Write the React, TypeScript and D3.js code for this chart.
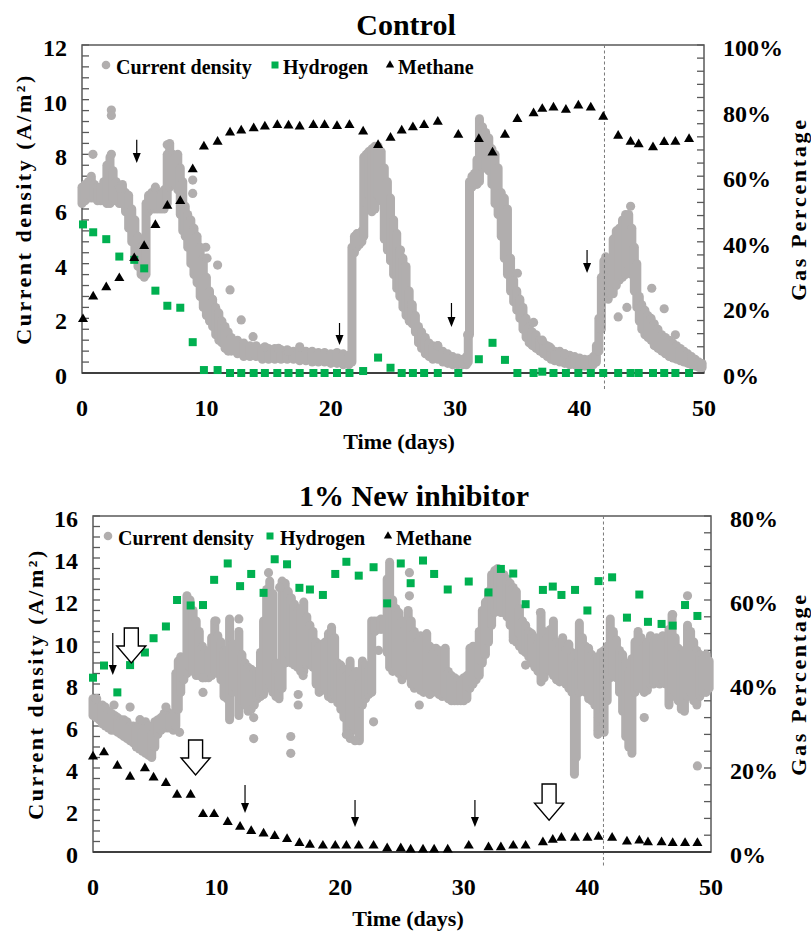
import React from "react";
import * as d3 from "d3";

const FONT = "'Liberation Serif', 'Times New Roman', serif";
const GRAY = "#b1aeae";
const GREEN = "#00b050";

// ---------- Control ----------
const ctrlGasDays = [0.08, 0.9, 1.95, 3.0, 4.2, 5.0, 5.9, 6.86, 7.9, 8.9, 9.8, 10.9, 11.9, 12.8, 13.8, 14.7, 15.7, 16.6, 17.5, 18.6, 19.5, 20.5, 21.5, 22.6, 23.8, 24.8, 25.7, 26.6, 27.5, 28.6, 30.25, 31.9, 33.0, 34.0, 35.0, 36.3, 37.0, 37.9, 38.9, 39.9, 40.9, 41.9, 43.1, 44.1, 44.75, 45.9, 46.8, 47.7, 48.8];
const ctrlHydrogen = [45.3, 42.9, 40.8, 35.5, 34.5, 31.9, 25.1, 20.5, 19.9, 9.4, 0.9, 0.9, 0, 0, 0, 0, 0, 0, 0, 0, 0, 0, 0, 0.6, 4.7, 1.6, 0, 0, 0, 0, 0, 4.2, 9.2, 4.0, 0, 0, 0.4, 0, 0, 0, 0, 0, 0, 0, 0, 0, 0, 0, 0];
const ctrlMethane = [16.4, 23.3, 26.1, 28.9, 35.0, 38.7, 45.1, 51.0, 52.4, 62.1, 69.0, 70.5, 73.3, 73.9, 74.6, 75.1, 75.6, 75.4, 75.1, 75.6, 75.6, 75.3, 75.6, 73.6, 69.5, 71.7, 73.9, 74.9, 75.6, 76.6, 72.6, 71.3, 67.2, 72.6, 77.4, 79.2, 80.5, 80.9, 80.2, 81.5, 80.9, 78.1, 72.3, 70.5, 69.7, 68.8, 70.4, 70.5, 71.3];

// current density: [day, low, high] spread of the dense dot cloud
const ctrlCurrent: [number, number, number][] = [
  [0.0, 6.2, 6.8], [0.25, 6.3, 6.9], [0.5, 6.4, 7.0], [0.75, 6.4, 7.2], [1.0, 6.4, 6.9], [1.25, 6.3, 6.8],
  [1.5, 6.3, 6.8], [1.75, 6.3, 7.0], [2.0, 6.2, 7.6], [2.25, 6.2, 7.9], [2.5, 6.3, 7.4], [2.75, 6.3, 7.0],
  [3.0, 6.2, 6.8], [3.25, 6.2, 6.9], [3.5, 5.9, 6.6], [3.75, 5.3, 6.5], [4.0, 4.8, 6.0], [4.25, 4.3, 5.6],
  [4.5, 3.9, 5.0], [4.75, 3.6, 4.6], [5.0, 3.5, 4.5], [5.15, 3.6, 6.2], [5.35, 5.9, 6.5], [5.6, 6.0, 6.6],
  [5.85, 6.0, 6.5], [6.1, 6.0, 6.6], [6.35, 6.0, 6.5], [6.6, 6.0, 6.7], [6.85, 6.2, 8.0], [7.05, 6.8, 8.4],
  [7.3, 6.9, 8.0], [7.5, 6.9, 7.9], [7.7, 6.7, 8.0], [7.9, 5.8, 7.5], [8.1, 5.2, 7.0], [8.3, 5.0, 6.1],
  [8.5, 4.6, 5.8], [8.75, 4.0, 5.6], [9.0, 3.6, 5.3], [9.25, 3.3, 5.0], [9.5, 2.8, 4.6], [9.75, 2.4, 4.2],
  [10.0, 2.1, 3.5], [10.25, 1.9, 3.0], [10.5, 1.7, 2.7], [10.75, 1.4, 2.4], [11.0, 1.2, 2.2], [11.25, 1.1, 1.9],
  [11.5, 0.9, 1.7], [11.75, 0.8, 1.5], [12.0, 0.8, 1.3], [12.5, 0.7, 1.2], [13.0, 0.6, 1.1], [13.5, 0.6, 1.0],
  [14.0, 0.6, 1.0], [14.5, 0.5, 0.9], [15.0, 0.5, 0.9], [15.5, 0.5, 0.9], [16.0, 0.5, 0.85], [16.5, 0.5, 0.85],
  [17.0, 0.5, 0.8], [17.5, 0.45, 0.85], [18.0, 0.45, 0.8], [18.5, 0.4, 0.8], [19.0, 0.4, 0.75], [19.5, 0.4, 0.75],
  [20.0, 0.35, 0.7], [20.5, 0.35, 0.75], [21.0, 0.3, 0.7], [21.45, 0.3, 0.65], [21.7, 0.4, 4.6], [21.9, 4.4, 5.0],
  [22.1, 4.6, 5.1], [22.3, 4.7, 5.1], [22.5, 4.8, 5.2], [22.65, 5.0, 7.9], [22.85, 6.2, 8.0], [23.05, 6.5, 8.1],
  [23.3, 5.9, 8.2], [23.55, 6.0, 8.3], [23.8, 6.5, 8.3], [24.05, 6.3, 8.1], [24.3, 4.9, 7.5], [24.55, 4.5, 7.0],
  [24.8, 4.1, 6.4], [25.05, 3.6, 5.6], [25.3, 3.1, 5.1], [25.55, 2.8, 4.5], [25.8, 2.4, 4.2], [26.05, 2.1, 3.9],
  [26.3, 1.9, 3.0], [26.55, 1.8, 2.5], [26.8, 1.5, 2.1], [27.05, 1.1, 1.7], [27.3, 0.9, 1.5], [27.6, 0.7, 1.3],
  [27.9, 0.6, 1.1], [28.2, 0.5, 1.0], [28.6, 0.5, 1.0], [29.0, 0.4, 0.8], [29.4, 0.35, 0.7], [29.8, 0.3, 0.6],
  [30.2, 0.3, 0.55], [30.6, 0.3, 0.5], [30.9, 0.3, 0.6], [31.05, 0.4, 1.4], [31.15, 1.4, 7.0], [31.35, 6.8, 7.2],
  [31.55, 6.9, 7.3], [31.75, 6.9, 7.8], [31.95, 7.0, 9.3], [32.2, 7.5, 9.0], [32.45, 7.5, 8.8], [32.7, 7.4, 8.6],
  [32.95, 6.9, 8.2], [33.2, 6.2, 8.0], [33.45, 5.8, 7.5], [33.7, 5.0, 6.6], [33.95, 4.2, 6.4], [34.2, 3.6, 6.0],
  [34.45, 3.0, 4.2], [34.7, 2.6, 3.4], [34.95, 2.3, 3.0], [35.2, 2.0, 2.7], [35.45, 1.6, 2.4], [35.7, 1.3, 2.0],
  [35.95, 1.1, 1.7], [36.2, 1.0, 1.5], [36.5, 0.9, 1.4], [36.8, 0.8, 1.2], [37.1, 0.7, 1.1], [37.4, 0.6, 1.0],
  [37.7, 0.5, 0.9], [38.0, 0.45, 0.8], [38.4, 0.4, 0.8], [38.8, 0.35, 0.7], [39.2, 0.3, 0.65], [39.6, 0.3, 0.6],
  [40.0, 0.25, 0.55], [40.4, 0.25, 0.5], [40.8, 0.25, 0.5], [41.1, 0.3, 0.6], [41.35, 0.4, 1.0], [41.55, 0.8, 2.0],
  [41.75, 1.6, 3.5], [41.95, 2.8, 4.1], [42.1, 3.2, 4.25], [42.3, 2.7, 3.9], [42.5, 2.9, 3.5], [42.7, 2.9, 4.9],
  [42.95, 3.2, 5.2], [43.2, 3.4, 5.3], [43.45, 3.5, 5.6], [43.7, 3.6, 5.8], [43.95, 3.9, 5.8], [44.2, 3.6, 5.3],
  [44.4, 3.0, 4.6], [44.6, 2.4, 4.0], [44.8, 1.9, 2.8], [45.0, 1.6, 2.5], [45.25, 1.4, 2.3], [45.5, 1.3, 2.1],
  [45.75, 1.2, 2.0], [46.0, 1.0, 1.8], [46.3, 0.9, 1.6], [46.6, 0.8, 1.4], [46.9, 0.7, 1.3], [47.2, 0.6, 1.2],
  [47.5, 0.55, 1.1], [47.8, 0.5, 1.0], [48.1, 0.45, 0.9], [48.4, 0.4, 0.8], [48.7, 0.35, 0.7], [49.0, 0.3, 0.6],
  [49.3, 0.25, 0.5], [49.6, 0.2, 0.4], [49.85, 0.2, 0.35],
];
// stray current density points
const ctrlCurrentDots: [number, number][] = [
  [0.88, 8.0], [2.36, 9.62], [2.36, 9.42], [2.36, 8.0], [3.1, 6.75], [5.9, 6.8], [6.85, 8.35], [8.9, 7.06],
  [8.9, 6.57], [9.95, 4.6], [10.05, 4.2], [10.9, 3.95], [11.9, 3.04], [12.8, 1.94], [13.75, 1.33], [14.7, 0.96],
  [15.8, 0.9], [16.6, 0.8], [17.5, 0.96], [25.6, 4.5], [26.5, 2.5], [28.6, 1.0], [31.0, 1.4], [35.0, 3.65],
  [36.3, 1.85], [37.0, 1.2], [37.6, 0.95], [38.8, 0.7], [43.1, 2.05], [43.8, 2.4], [44.1, 6.1], [45.8, 3.1],
  [46.8, 2.35], [47.7, 1.4],
];
// feeding arrows: [day, top value, tip value]
const ctrlArrows: [number, number, number][] = [[4.4, 8.53, 7.68], [20.7, 1.83, 1.02], [29.7, 2.56, 1.68], [40.6, 4.5, 3.66]];
const ctrlDashDay = 42.0;

// ---------- 1% New inhibitor ----------
const inhGasDays = [0, 0.89, 1.97, 3.0, 4.2, 4.9, 5.9, 6.8, 7.9, 8.9, 9.8, 10.9, 11.9, 12.8, 13.8, 14.7, 15.7, 16.7, 17.55, 18.6, 19.6, 20.5, 21.5, 22.7, 23.8, 24.9, 25.7, 26.7, 27.6, 28.7, 30.4, 32.0, 33.0, 34.0, 35.0, 36.4, 37.2, 37.9, 39.0, 40.0, 40.9, 42.0, 43.2, 44.2, 44.9, 46.0, 46.9, 47.9, 48.9];
const inhHydrogen = [41.5, 44.4, 38.0, 44.5, 47.5, 50.9, 53.7, 60.0, 58.7, 58.8, 64.8, 68.7, 63.3, 66.2, 61.7, 69.7, 68.5, 62.9, 62.5, 61.2, 66.2, 69.1, 65.8, 67.8, 59.2, 68.7, 64.0, 69.4, 66.2, 62.5, 64.4, 61.8, 67.4, 66.3, 59.0, 62.4, 63.2, 61.2, 62.4, 57.5, 64.5, 65.4, 55.8, 61.3, 54.8, 54.3, 53.9, 58.8, 56.2];
const inhMethane = [22.7, 23.7, 20.5, 17.9, 19.9, 17.7, 16.4, 13.6, 13.6, 9.0, 9.0, 7.1, 6.0, 5.0, 4.4, 3.8, 3.1, 2.1, 1.7, 1.5, 1.5, 1.5, 1.5, 1.5, 0.9, 0.9, 0.6, 0.6, 0.6, 0.6, 1.5, 1.1, 1.1, 1.5, 1.5, 2.3, 2.9, 3.4, 3.4, 3.4, 3.6, 3.4, 2.5, 2.7, 2.3, 2.3, 2.1, 2.1, 2.1];

const inhCurrent: [number, number, number][] = [
  [0.0, 6.5, 7.3], [0.25, 6.4, 7.2], [0.5, 6.3, 7.0], [0.75, 6.1, 7.0], [1.0, 6.0, 6.9], [1.25, 5.9, 6.7],
  [1.5, 5.8, 6.6], [1.75, 5.8, 6.5], [2.0, 5.7, 6.4], [2.25, 5.6, 6.3], [2.5, 5.5, 6.3], [2.75, 5.4, 6.2],
  [3.0, 5.3, 6.0], [3.25, 5.2, 6.0], [3.5, 5.0, 5.9], [3.75, 4.9, 6.1], [4.0, 4.8, 5.7], [4.25, 4.7, 6.2],
  [4.5, 4.6, 6.0], [4.75, 4.5, 5.6], [5.0, 5.0, 6.2], [5.25, 5.6, 6.3], [5.5, 5.8, 6.4], [5.75, 5.9, 6.6],
  [6.0, 5.9, 6.7], [6.25, 5.9, 6.5], [6.5, 5.8, 6.6], [6.7, 6.0, 8.5], [6.9, 6.8, 9.1], [7.1, 7.6, 9.3],
  [7.35, 8.2, 9.2], [7.6, 8.5, 12.2], [7.85, 8.8, 12.0], [8.1, 8.6, 11.5], [8.35, 8.4, 11.0], [8.6, 8.4, 10.5],
  [8.85, 8.3, 9.8], [9.1, 8.3, 9.6], [9.35, 8.3, 9.5], [9.6, 8.4, 10.2], [9.85, 8.6, 11.0], [10.1, 8.5, 10.3],
  [10.35, 8.2, 10.0], [10.6, 7.4, 9.6], [10.85, 7.3, 9.6], [11.05, 6.3, 11.1], [11.3, 7.6, 9.9], [11.55, 7.8, 9.6],
  [11.8, 6.5, 10.5], [12.05, 7.2, 9.4], [12.3, 7.0, 9.0], [12.55, 6.7, 8.8], [12.8, 6.8, 8.7], [13.05, 7.0, 8.6],
  [13.3, 7.3, 8.6], [13.55, 7.4, 9.5], [13.8, 7.5, 11.0], [14.05, 7.8, 12.5], [14.3, 8.0, 12.9], [14.55, 7.6, 12.3],
  [14.8, 7.4, 9.0], [15.05, 7.3, 8.4], [15.3, 7.8, 12.9], [15.55, 9.0, 12.8], [15.8, 9.4, 12.4], [16.05, 9.0, 12.1],
  [16.3, 8.9, 11.8], [16.55, 8.8, 11.5], [16.8, 8.6, 11.6], [17.05, 8.6, 11.9], [17.3, 8.9, 11.2], [17.55, 9.0, 10.8],
  [17.8, 8.8, 10.5], [18.05, 8.0, 10.0], [18.3, 7.6, 9.8], [18.55, 7.7, 9.9], [18.8, 7.8, 10.0], [19.05, 7.4, 10.4],
  [19.3, 7.3, 10.7], [19.55, 7.5, 10.2], [19.8, 7.1, 9.0], [20.05, 6.8, 8.9], [20.3, 6.4, 8.7], [20.55, 5.8, 8.4],
  [20.8, 5.4, 9.1], [21.05, 6.0, 8.3], [21.3, 5.8, 8.6], [21.55, 5.3, 8.0], [21.8, 7.0, 9.1], [22.05, 7.3, 8.9],
  [22.3, 7.5, 8.7], [22.55, 7.6, 11.0], [22.8, 10.5, 11.0], [23.05, 10.6, 11.0], [23.3, 10.6, 11.1], [23.55, 10.6, 11.0],
  [23.8, 9.5, 13.0], [24.0, 8.8, 13.8], [24.25, 8.6, 12.0], [24.5, 8.8, 11.6], [24.75, 8.5, 11.4], [25.0, 8.2, 11.0],
  [25.25, 8.5, 10.6], [25.5, 8.4, 11.5], [25.75, 8.0, 11.0], [26.0, 7.8, 10.5], [26.25, 7.9, 10.0], [26.5, 7.7, 10.3],
  [26.75, 7.6, 10.2], [27.0, 7.8, 10.4], [27.25, 7.5, 9.8], [27.5, 7.6, 9.5], [27.75, 7.8, 9.7], [28.0, 7.5, 9.6],
  [28.25, 7.4, 9.3], [28.5, 7.5, 9.7], [28.75, 7.3, 8.6], [29.0, 7.2, 8.4], [29.25, 7.2, 8.3], [29.5, 7.2, 8.2],
  [29.75, 7.2, 8.1], [30.0, 7.2, 8.3], [30.25, 7.3, 8.4], [30.5, 7.8, 9.7], [30.75, 8.0, 9.8], [31.0, 8.2, 9.6],
  [31.25, 8.4, 10.5], [31.5, 9.0, 11.5], [31.75, 9.4, 11.9], [32.0, 10.0, 12.4], [32.25, 10.8, 13.2], [32.5, 11.4, 13.4],
  [32.75, 11.6, 13.5], [33.0, 11.4, 13.3], [33.25, 11.4, 13.2], [33.5, 11.2, 13.0], [33.75, 10.8, 12.8], [34.0, 10.2, 12.6],
  [34.25, 10.0, 12.4], [34.5, 9.8, 11.6], [34.75, 9.6, 11.0], [35.0, 9.5, 10.8], [35.25, 9.3, 10.5], [35.5, 9.0, 10.4],
  [35.75, 8.8, 10.2], [36.0, 8.6, 9.9], [36.25, 8.1, 11.4], [36.5, 8.3, 10.5], [36.75, 8.7, 10.2], [37.0, 8.6, 10.6],
  [37.25, 8.4, 11.0], [37.5, 8.2, 10.0], [37.75, 8.1, 9.8], [38.0, 8.3, 10.2], [38.25, 8.0, 9.6], [38.5, 7.8, 9.9],
  [38.75, 7.6, 9.5], [38.95, 3.7, 9.4], [39.1, 4.5, 9.0], [39.35, 7.6, 10.9], [39.6, 7.8, 10.2], [39.85, 7.6, 9.8],
  [40.1, 7.3, 9.7], [40.35, 7.2, 9.4], [40.6, 7.0, 9.2], [40.85, 5.6, 9.3], [41.1, 6.5, 9.5], [41.35, 5.7, 9.6],
  [41.6, 7.2, 9.8], [41.85, 8.3, 11.1], [42.1, 8.4, 10.5], [42.35, 8.3, 10.1], [42.6, 7.6, 9.6], [42.85, 6.7, 9.4],
  [43.1, 5.5, 9.0], [43.35, 5.0, 8.6], [43.6, 4.7, 9.2], [43.85, 7.6, 10.0], [44.1, 7.8, 10.5], [44.35, 7.8, 10.2],
  [44.6, 7.6, 9.8], [44.85, 7.7, 10.0], [45.1, 8.0, 10.3], [45.35, 8.0, 10.0], [45.6, 8.1, 10.2], [45.85, 8.0, 9.9],
  [46.1, 8.2, 10.3], [46.35, 8.0, 10.0], [46.6, 7.0, 10.6], [46.85, 7.4, 11.3], [47.1, 7.6, 10.2], [47.35, 7.2, 9.7],
  [47.6, 6.8, 9.4], [47.85, 6.7, 9.6], [48.1, 7.4, 10.8], [48.35, 7.6, 10.5], [48.6, 7.2, 10.0], [48.85, 7.0, 9.6],
  [49.1, 7.4, 9.4], [49.35, 7.6, 9.2], [49.6, 7.6, 9.4], [49.85, 7.8, 9.1],
];
const inhCurrentDots: [number, number][] = [
  [0.3, 7.3], [1.7, 7.0], [3.0, 6.9], [3.8, 6.3], [5.9, 6.9], [7.0, 5.7], [8.9, 8.3], [8.9, 7.6], [9.95, 11.0],
  [11.8, 11.1], [13.0, 6.4], [13.0, 5.4], [14.2, 13.3], [15.1, 12.6], [16.6, 7.5], [16.6, 7.0], [16.0, 5.5],
  [16.0, 4.7], [17.0, 8.4], [20.5, 5.6], [21.2, 5.3], [22.7, 6.2], [23.1, 9.6], [25.6, 13.3], [25.6, 12.2],
  [26.4, 7.0], [34.0, 10.1], [35.0, 8.9], [36.2, 11.4], [40.9, 6.4], [40.9, 5.8], [44.6, 6.4], [46.9, 11.3],
  [48.1, 12.2], [48.9, 4.1],
];
const inhArrows: [number, number, number][] = [[1.6, 10.43, 8.43], [12.3, 3.19, 1.86], [21.2, 2.48, 1.19], [30.9, 2.48, 1.19]];
const inhHollowArrows: [number, number, number][] = [[3.1, 10.67, 9.0], [8.3, 5.33, 3.67], [36.9, 3.24, 1.52]];
const inhDashDay = 41.3;

const xTickLabels = [0, 10, 20, 30, 40, 50];
const legendLabels = ["Current density", "Hydrogen", "Methane"];

type Box = { left: number; right: number; top: number; bottom: number };

function Panel(props: any) {
  const p = props;
  const b: Box = p.box;

  // create x and y scales
  const x = d3.scaleLinear().domain([0, 50]).range([b.left, b.right]);
  const y = d3.scaleLinear().domain([0, p.yMax]).range([b.bottom, b.top]);
  const yr = d3.scaleLinear().domain([0, p.rMax]).range([b.bottom, b.top]);

  const triPath = d3.symbol().type(d3.symbolTriangle).size(44)() as string;
  const triLegend = d3.symbol().type(d3.symbolTriangle).size(30)() as string;
  const midY = (b.top + b.bottom) / 2;
  const txt = { fontFamily: FONT, fontWeight: 700, fill: "#000" };

  return (
    <g>
      <text x={p.titleX} y={p.titleY} textAnchor="middle" fontSize={30} {...txt}>{p.title}</text>

      {/* frame */}
      <rect x={b.left} y={b.top} width={b.right - b.left} height={b.bottom - b.top} fill="none" stroke="#595959" strokeWidth={1.5} />

      {/* minor ticks, pointing inward */}
      {d3.range(0, p.yMax + 1e-6, p.yMinor).map((v, i) => (
        <line key={"l" + i} x1={b.left} x2={b.left + 7} y1={y(v)} y2={y(v)} stroke="#595959" strokeWidth={1.3} />
      ))}
      {d3.range(0, p.rMax + 1e-6, p.rMinor).map((v, i) => (
        <line key={"r" + i} x1={b.right - 7} x2={b.right} y1={yr(v)} y2={yr(v)} stroke="#595959" strokeWidth={1.3} />
      ))}

      {/* tick labels */}
      {d3.range(0, p.yMax + 1e-6, 2).map((v) => (
        <text key={"yl" + v} x={b.left - 15} y={y(v) + 3} textAnchor="end" dominantBaseline="central" fontSize={24} {...txt}>{v}</text>
      ))}
      {d3.range(0, p.rMax + 1e-6, 20).map((v) => (
        <text key={"yr" + v} x={b.right + 19} y={yr(v) + 3} textAnchor="start" dominantBaseline="central" fontSize={24} {...txt}>{v}%</text>
      ))}
      {xTickLabels.map((v) => (
        <text key={"x" + v} x={x(v)} y={b.bottom + 35} textAnchor="middle" dominantBaseline="central" fontSize={24} {...txt}>{v}</text>
      ))}

      {/* axis titles */}
      <text x={(b.left + b.right) / 2 + 6} y={b.bottom + p.xTitleOffset} textAnchor="middle" dominantBaseline="central" fontSize={22} {...txt}>Time (days)</text>
      <text transform={`translate(${p.yTitleX},${midY}) rotate(-90)`} textAnchor="middle" dominantBaseline="central" fontSize={22} letterSpacing={2.5} {...txt}>Current density (A/m²)</text>
      <text transform={`translate(${p.rTitleX},${midY}) rotate(-90)`} textAnchor="middle" dominantBaseline="central" fontSize={22} letterSpacing={2.7} {...txt}>Gas Percentage</text>

      {/* current density cloud */}
      <g stroke={GRAY} strokeWidth={9} strokeLinecap="round">
        {p.current.map((d: number[], i: number) => (
          <line key={i} x1={x(d[0])} x2={x(d[0])} y1={y(d[1])} y2={y(d[2])} />
        ))}
      </g>
      <g fill={GRAY}>
        {p.currentDots.map((d: number[], i: number) => (
          <circle key={i} cx={x(d[0])} cy={y(d[1])} r={4.6} />
        ))}
      </g>

      {/* dashed marker line */}
      <line x1={x(p.dashDay)} x2={x(p.dashDay)} y1={b.top} y2={b.bottom + 16} stroke="#7a7a7a" strokeWidth={1} strokeDasharray="3,2.5" />

      {/* bottom axis line */}
      <line x1={b.left} x2={b.right} y1={b.bottom} y2={b.bottom} stroke="#3f3f3f" strokeWidth={2} />

      {/* hydrogen */}
      <g fill={GREEN}>
        {p.gasDays.map((d: number, i: number) => (
          <rect key={i} x={x(d) - 4} y={yr(p.hydrogen[i]) - 4} width={8} height={8} />
        ))}
      </g>
      {/* methane */}
      <g fill="#000">
        {p.gasDays.map((d: number, i: number) => (
          <path key={i} d={triPath} transform={`translate(${x(d)},${yr(p.methane[i])})`} />
        ))}
      </g>

      {/* small feeding arrows */}
      {p.arrows.map((a: number[], i: number) => {
        const cx = x(a[0]);
        const y0 = y(a[1]);
        const y1 = y(a[2]);
        return (
          <g key={"a" + i}>
            <line x1={cx} x2={cx} y1={y0} y2={y1 - 8} stroke="#000" strokeWidth={1.2} />
            <path d={`M${cx - 4},${y1 - 10}L${cx + 4},${y1 - 10}L${cx},${y1}Z`} fill="#000" />
          </g>
        );
      })}
      {/* hollow arrows */}
      {p.hollow.map((a: number[], i: number) => {
        const cx = x(a[0]);
        const y0 = y(a[1]);
        const y1 = y(a[2]);
        const hy = y1 - 17;
        return (
          <path key={"h" + i}
            d={`M${cx - 7},${y0}L${cx + 7},${y0}L${cx + 7},${hy}L${cx + 14.5},${hy}L${cx},${y1}L${cx - 14.5},${hy}L${cx - 7},${hy}Z`}
            fill="#fff" stroke="#000" strokeWidth={1.4} strokeLinejoin="miter" />
        );
      })}

      {/* legend */}
      <circle cx={p.legend[0]} cy={p.legendY - 9} r={4.3} fill={GRAY} />
      <text x={p.legend[1]} y={p.legendY} fontSize={20} {...txt}>{legendLabels[0]}</text>
      <rect x={p.legend[2] - 3.5} y={p.legendY - 12.5} width={7} height={7} fill={GREEN} />
      <text x={p.legend[3]} y={p.legendY} fontSize={20} {...txt}>{legendLabels[1]}</text>
      <path d={triLegend} transform={`translate(${p.legend[4]},${p.legendY - 9})`} fill="#000" />
      <text x={p.legend[5]} y={p.legendY} fontSize={20} {...txt}>{legendLabels[2]}</text>
    </g>
  );
}

export default function App() {
  return (
    <svg width={811} height={938} style={{ position: "absolute", left: 0, top: 0, background: "#fff" }}>
      <rect width={811} height={938} fill="#fff" />
      <Panel
        title="Control" titleX={406} titleY={35}
        box={{ left: 82, right: 704, top: 45, bottom: 373 }}
        yMax={12} yMinor={0.4} rMax={100} rMinor={4}
        gasDays={ctrlGasDays} hydrogen={ctrlHydrogen} methane={ctrlMethane}
        current={ctrlCurrent} currentDots={ctrlCurrentDots}
        arrows={ctrlArrows} hollow={[]} dashDay={ctrlDashDay}
        yTitleX={23} rTitleX={798} xTitleOffset={68}
        legend={[106, 116, 275, 283, 390, 398]} legendY={74}
      />
      <Panel
        title="1% New inhibitor" titleX={414} titleY={506}
        box={{ left: 93, right: 711, top: 516, bottom: 852 }}
        yMax={16} yMinor={0.5} rMax={80} rMinor={4}
        gasDays={inhGasDays} hydrogen={inhHydrogen} methane={inhMethane}
        current={inhCurrent} currentDots={inhCurrentDots}
        arrows={inhArrows} hollow={inhHollowArrows} dashDay={inhDashDay}
        yTitleX={35} rTitleX={798} xTitleOffset={66}
        legend={[108, 118, 270, 280, 388, 396]} legendY={545}
      />
    </svg>
  );
}
